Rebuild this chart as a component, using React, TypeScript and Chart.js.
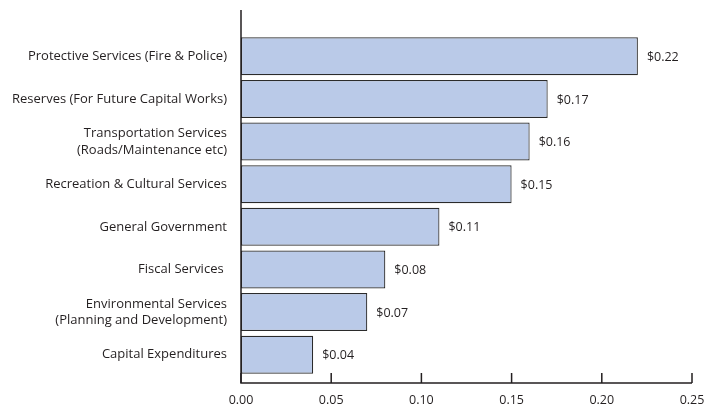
import React, { useEffect, useRef } from "react";
import { Chart, registerables } from "chart.js";

Chart.register(...registerables);

const categories: (string | string[])[] = [
  "Protective Services (Fire & Police)",
  "Reserves (For Future Capital Works)",
  ["Transportation Services", "(Roads/Maintenance etc)"],
  "Recreation & Cultural Services",
  "General Government",
  "Fiscal Services ",
  ["Environmental Services", "(Planning and Development)"],
  "Capital Expenditures",
];

const values: number[] = [0.22, 0.17, 0.16, 0.15, 0.11, 0.08, 0.07, 0.04];

const xTicks: number[] = [0, 0.05, 0.1, 0.15, 0.2, 0.25];

const FONT = "'Open Sans', Lato, sans-serif";
const TEXT = "#231f20";

const axesPlugin = {
  id: "customAxes",
  afterDatasetsDraw(chart: any) {
    const { ctx, chartArea, scales } = chart;
    const xs = scales.x;
    const axisY = chartArea.bottom + 7;
    ctx.save();
    ctx.strokeStyle = "#231f20";
    ctx.lineWidth = 1.5;
    ctx.beginPath();
    ctx.moveTo(chartArea.left, 10);
    ctx.lineTo(chartArea.left, axisY);
    ctx.lineTo(chartArea.right, axisY);
    ctx.stroke();
    ctx.beginPath();
    xTicks.forEach((t) => {
      const px = xs.getPixelForValue(t);
      ctx.moveTo(px, axisY);
      ctx.lineTo(px, axisY - 10);
    });
    ctx.stroke();

    // value labels
    const meta = chart.getDatasetMeta(0);
    ctx.fillStyle = TEXT;
    ctx.font = `12.5px ${FONT}`;
    ctx.textAlign = "left";
    ctx.textBaseline = "middle";
    meta.data.forEach((el: any, i: number) => {
      ctx.fillText("$" + values[i].toFixed(2), el.x + 9, el.y + 1);
    });
    ctx.restore();
  },
};

export default function App() {
  const ref = useRef<HTMLCanvasElement>(null);
  useEffect(() => {
    if (!ref.current) return;
    const chart = new Chart(ref.current, {
      type: "bar",
      data: {
        labels: categories,
        datasets: [
          {
            data: values,
            backgroundColor: "#bacae8",
            borderColor: "#2b2b2b",
            borderWidth: 1.2,
            borderSkipped: false,
            categoryPercentage: 1,
            barPercentage: 0.89,
          },
        ],
      },
      options: {
        indexAxis: "y",
        animation: false,
        responsive: false,
        maintainAspectRatio: false,
        layout: { padding: { top: 35, right: 27, left: 0, bottom: 0 } },
        plugins: { legend: { display: false }, tooltip: { enabled: false } },
        scales: {
          x: {
            type: "linear",
            min: 0,
            max: 0.25,
            afterBuildTicks: (s: any) => {
              s.ticks = xTicks.map((v) => ({ value: v }));
            },
            afterFit: (s: any) => {
              s.height = 32;
              s.paddingLeft = 0;
              s.paddingRight = 0;
            },
            grid: { display: false, drawTicks: false },
            border: { display: false },
            ticks: {
              padding: 17,
              color: TEXT,
              font: { family: FONT, size: 12.5 },
              callback: (v: any) => Number(v).toFixed(2),
              maxRotation: 0,
            },
          },
          y: {
            type: "category",
            afterFit: (s: any) => {
              s.width = 241;
            },
            grid: { display: false, drawTicks: false },
            border: { display: false },
            ticks: {
              padding: 14,
              color: TEXT,
              font: { family: FONT, size: 13, lineHeight: 1.27 },
              autoSkip: false,
            },
          },
        },
      },
      plugins: [axesPlugin],
    });
    return () => chart.destroy();
  }, []);
  return (
    <div style={{ position: "fixed", left: 0, top: 0, width: 719, height: 408, background: "#fff" }}>
      <canvas ref={ref} width={719} height={408} style={{ width: 719, height: 408 }} />
    </div>
  );
}
